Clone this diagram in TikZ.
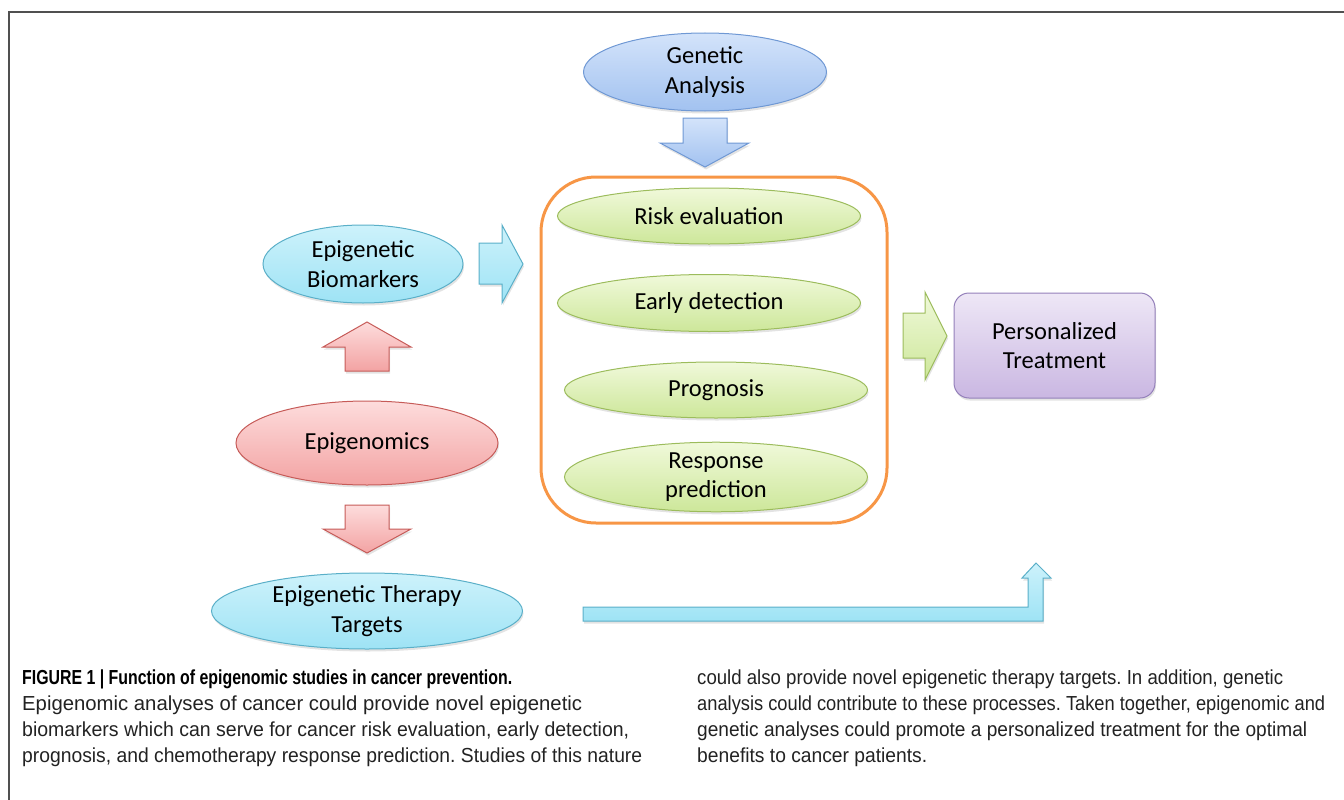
\documentclass[tikz,border=0pt]{standalone}
\usepackage{fontspec}
\usepackage{graphicx}
\setmainfont{Carlito}
\newfontfamily\capfont{Liberation Sans}
\newcommand{\capfit}[2]{\resizebox{#1pt}{\height}{#2}}
\usetikzlibrary{shapes.geometric,shadows}
\definecolor{frameC}{HTML}{505050}
\definecolor{blueT}{HTML}{D3E3FA}\definecolor{blueB}{HTML}{A2C2F0}\definecolor{blueD}{HTML}{6F98D4}
\definecolor{cyanT}{HTML}{CDF2FB}\definecolor{cyanB}{HTML}{9EE3F5}\definecolor{cyanD}{HTML}{5AAFC8}
\definecolor{redT}{HTML}{FDDCDC}\definecolor{redB}{HTML}{F3A3A3}\definecolor{redD}{HTML}{C65B58}
\definecolor{grnT}{HTML}{F0F9DA}\definecolor{grnB}{HTML}{CDE79A}\definecolor{grnD}{HTML}{9CBC5C}
\definecolor{purT}{HTML}{EEE7F6}\definecolor{purB}{HTML}{CAB7E2}\definecolor{purD}{HTML}{9480BA}
\definecolor{orgC}{HTML}{F79646}
\definecolor{capC}{HTML}{222222}
\tikzset{
  shd/.style={drop shadow={opacity=0.22,shadow xshift=1pt,shadow yshift=-2.5pt}},
  oval/.style={ellipse,draw,line width=1pt,inner sep=0pt,shd,align=center,
    font=\fontsize{24.5}{29.5}\selectfont},
  blueS/.style={top color=blueT,bottom color=blueB,draw=blueD},
  cyanS/.style={top color=cyanT,bottom color=cyanB,draw=cyanD},
  redS/.style={top color=redT,bottom color=redB,draw=redD},
  grnS/.style={top color=grnT,bottom color=grnB,draw=grnD},
  purS/.style={top color=purT,bottom color=purB,draw=purD},
  blockarrow/.style={line width=1pt,line join=miter,shd},
  capline/.style={anchor=base west,inner sep=0pt,text=capC,
    font=\capfont\frenchspacing\fontsize{20.3}{26}\selectfont},
  caphead/.style={anchor=base west,inner sep=0pt,text=black,
    font=\capfont\bfseries\frenchspacing\fontsize{20.3}{26}\selectfont},
}
\begin{document}
\begin{tikzpicture}[x=1pt,y=-1pt]
\useasboundingbox (0,0) rectangle (1344,800);
% frame
\draw[frameC,line width=2pt] (1344,12) -- (9,12) -- (9,800);

% Genetic analysis
\node[oval,blueS,minimum width=243,minimum height=78] (gen) at (705,72) {Genetic\\Analysis};
\draw[blockarrow,blueS] (683,118) -- (727,118) -- (727,143) -- (749,143) -- (705,167)
  -- (660,143) -- (683,143) -- cycle;

% orange group box
\node[draw=orgC,line width=3pt,rounded corners=55pt,minimum width=346,minimum height=346,inner sep=0pt] (grp) at (714,350) {};
\node[oval,grnS,minimum width=303,minimum height=56] (risk) at (709,216) {Risk evaluation};
\node[oval,grnS,minimum width=303,minimum height=57] (early) at (709,303) {Early detection};
\node[oval,grnS,minimum width=303,minimum height=56] (prog) at (716,390) {Prognosis};
\node[oval,grnS,minimum width=303,minimum height=57] (resp) at (716,477) {Response\\prediction};

% left column
\node[oval,cyanS,minimum width=200,minimum height=78] (bio) at (363,264) {Epigenetic\\Biomarkers};
\node[oval,redS,minimum width=262,minimum height=84] (epi) at (367,443) {Epigenomics};
\node[oval,cyanS,minimum width=311,minimum height=76] (ther) at (367,611) {Epigenetic Therapy\\Targets};

% arrows
\draw[blockarrow,cyanS] (479,243) -- (502,243) -- (502,225) -- (523,264) -- (502,303)
  -- (502,284) -- (479,284) -- cycle;
\draw[blockarrow,redS] (345,371) -- (345,347) -- (323,347) -- (367,322) -- (411,347)
  -- (389,347) -- (389,371) -- cycle;
\draw[blockarrow,redS] (345,505) -- (389,505) -- (389,529) -- (411,529) -- (367,553)
  -- (323,529) -- (345,529) -- cycle;
\draw[blockarrow,grnS] (903,313) -- (925,313) -- (925,292) -- (947,336) -- (925,380)
  -- (925,358) -- (903,358) -- cycle;
\draw[blockarrow,cyanS] (583,607) -- (1028,607) -- (1028,578) -- (1022,578) -- (1036,563)
  -- (1051,578) -- (1043,578) -- (1043,621) -- (583,621) -- cycle;

% personalized treatment
\node[draw,purS,line width=1pt,rounded corners=15pt,minimum width=201,minimum height=105,
  shd,align=center,font=\fontsize{24.5}{29.5}\selectfont] (pt) at (1054.5,345.5) {Personalized\\Treatment};

% caption
\node[caphead] (c1) at (22,684) {\capfit{490}{FIGURE 1 | Function of epigenomic studies in cancer prevention.}};
\node[capline] (c2) at (22,710) {\capfit{560}{Epigenomic analyses of cancer could provide novel epigenetic}};
\node[capline] (c3) at (22,736) {\capfit{607}{biomarkers which can serve for cancer risk evaluation, early detection,}};
\node[capline] (c4) at (22,762) {\capfit{620}{prognosis, and chemotherapy response prediction. Studies of this nature}};
\node[capline] (c5) at (697,684) {\capfit{586}{could also provide novel epigenetic therapy targets. In addition, genetic}};
\node[capline] (c6) at (697,710) {\capfit{628}{analysis could contribute to these processes. Taken together, epigenomic and}};
\node[capline] (c7) at (697,736) {\capfit{610}{genetic analyses could promote a personalized treatment for the optimal}};
\node[capline] (c8) at (697,762) {\capfit{230}{benefits to cancer patients.}};
\end{tikzpicture}
\end{document}
